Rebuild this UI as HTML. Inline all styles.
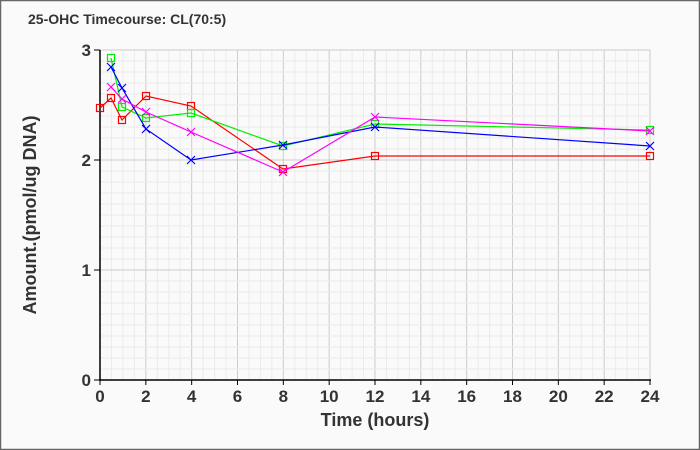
<!DOCTYPE html>
<html><head><meta charset="utf-8"><style>
html,body{margin:0;padding:0;background:#fafafa}
svg{display:block}
text{font-family:"Liberation Sans",sans-serif;font-weight:bold;fill:#333}
</style></head><body>
<svg id="s" width="700" height="450" xmlns="http://www.w3.org/2000/svg">
<rect x="0.5" y="0.5" width="699" height="449" fill="#fafafa" stroke="#666" stroke-width="1.5"/>
<g id="grid"></g>
<text x="28" y="24" font-size="14">25-OHC Timecourse: CL(70:5)</text>
<text x="36" y="215" font-size="18" transform="rotate(-90 36 215)" text-anchor="middle">Amount.(pmol/ug DNA)</text>
<text x="375" y="426" font-size="18" text-anchor="middle">Time (hours)</text>
<g id="ticks" font-size="17"></g>
<g id="data" fill="none" stroke-width="1.2"></g>
</svg>
<script>
var ns="http://www.w3.org/2000/svg";
function el(p,t,a,txt){var e=document.createElementNS(ns,t);for(var k in a)e.setAttribute(k,a[k]);if(txt!==undefined)e.textContent=txt;p.appendChild(e);return e;}
var g=document.getElementById('grid'),tk=document.getElementById('ticks'),d=document.getElementById('data');
function X(h){return 100+h*550/24;} function Y(v){return 380-v*110;}
for(var i=0;i<=48;i++){var x=X(i/2);el(g,'line',{x1:x,x2:x,y1:50,y2:380,stroke:i%4==0?'#ccc':'#ebebeb','stroke-width':1});}
for(var j=0;j<=30;j++){var y=Y(j/10);el(g,'line',{x1:100,x2:650,y1:y,y2:y,stroke:j%10==0?'#ccc':'#ebebeb','stroke-width':1});}
el(g,'line',{x1:100,x2:100,y1:50,y2:381,stroke:'#000','stroke-width':1.5});
el(g,'line',{x1:99,x2:651,y1:380,y2:380,stroke:'#000','stroke-width':1.5});
for(var h=0;h<=24;h+=2){el(tk,'line',{x1:X(h),x2:X(h),y1:380,y2:385,stroke:'#000'});el(tk,'text',{x:X(h),y:402,'text-anchor':'middle'},h);}
for(var v=0;v<=3;v++){el(tk,'line',{x1:94,x2:100,y1:Y(v),y2:Y(v),stroke:'#000'});el(tk,'text',{x:91,y:Y(v)+6,'text-anchor':'end'},v);}
var series=[
 {c:'#f00',m:'s',p:[[100,108],[111,98],[122,120],[146,96],[191,106],[283,169],[375,156],[650,156]]},
 {c:'#0e0',m:'s',p:[[111,58],[122,107],[146,118],[191,113],[283,146],[375,124],[650,130]]},
 {c:'#00f',m:'x',p:[[111,67],[122,88],[146,129],[191,160],[283,145],[375,127],[650,146]]},
 {c:'#f0f',m:'x',p:[[111,87],[122,99],[146,112],[191,132],[283,172],[375,117],[650,131]]}];
series.forEach(function(s){
 el(d,'polyline',{points:s.p.map(function(q){return q.join(',')}).join(' '),stroke:s.c});
 s.p.forEach(function(q){
  if(s.m=='s')el(d,'rect',{x:q[0]-3.5,y:q[1]-3.5,width:7,height:7,stroke:s.c});
  else el(d,'path',{d:'M'+(q[0]-4)+' '+(q[1]-4)+'L'+(q[0]+4)+' '+(q[1]+4)+'M'+(q[0]-4)+' '+(q[1]+4)+'L'+(q[0]+4)+' '+(q[1]-4),stroke:s.c});
 });
});
</script>
</body></html>
